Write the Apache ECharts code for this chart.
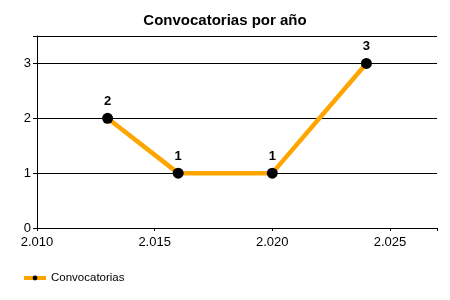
<!DOCTYPE html>
<html><head><meta charset="utf-8">
<script src="https://cdn.jsdelivr.net/npm/echarts@6/dist/echarts.min.js"></script>
<style>html,body{margin:0;padding:0;background:#fff}#c{width:450px;height:300px}</style>
</head><body><div id="c"></div>
<script>
const years = [2013, 2016, 2020, 2024];
const counts = [2, 1, 1, 3];
const seriesName = 'Convocatorias';
const titleText = 'Convocatorias por año';

const chart = echarts.init(document.getElementById('c'));
const font = 'Liberation Sans, Arial, sans-serif';
chart.setOption({
  animation: false,
  title: { text: titleText, left: 'center', top: 8, textStyle: { fontFamily: font, fontSize: 15, fontWeight: 'bold', color: '#000' } },
  grid: { left: 37, right: 13, top: 36, bottom: 72 },
  legend: {
    left: 17, top: 267, itemWidth: 22, itemHeight: 6, itemGap: 5,
    lineStyle: { width: 4 },
    textStyle: { fontFamily: font, fontSize: 11.5, color: '#000' },
    data: [seriesName]
  },
  xAxis: {
    type: 'value', min: 2010, max: 2027, interval: 5,
    axisLine: { lineStyle: { color: '#000', width: 1 } },
    axisTick: { show: true, length: 3, lineStyle: { color: '#000' } },
    splitLine: { show: false },
    axisLabel: { fontFamily: font, fontSize: 13, color: '#000', margin: 8,
      formatter: v => (v % 5 === 0 && v !== 2027) ? String(v).replace(/(\d)(\d{3})$/, '$1.$2') : '' }
  },
  yAxis: {
    type: 'value', min: 0, max: 3.5, interval: 1,
    axisLine: { show: true, lineStyle: { color: '#000', width: 1 } },
    axisTick: { show: true, length: 4, lineStyle: { color: '#000' } },
    splitLine: { show: true, lineStyle: { color: '#000', width: 1 } },
    axisLabel: { fontFamily: font, fontSize: 13, color: '#000', margin: 6,
      formatter: v => Number.isInteger(v) ? String(v) : '' }
  },
  series: [{
    name: seriesName, type: 'line',
    data: years.map((y, i) => [y, counts[i]]),
    symbol: 'circle', symbolSize: 11,
    itemStyle: { color: '#000' },
    lineStyle: { color: '#FFA500', width: 4.5 },
    label: { show: true, position: 'top', distance: 5, fontFamily: font, fontSize: 13, fontWeight: 'bold', color: '#000',
      formatter: p => String(p.value[1]) }
  }]
});
</script></body></html>
